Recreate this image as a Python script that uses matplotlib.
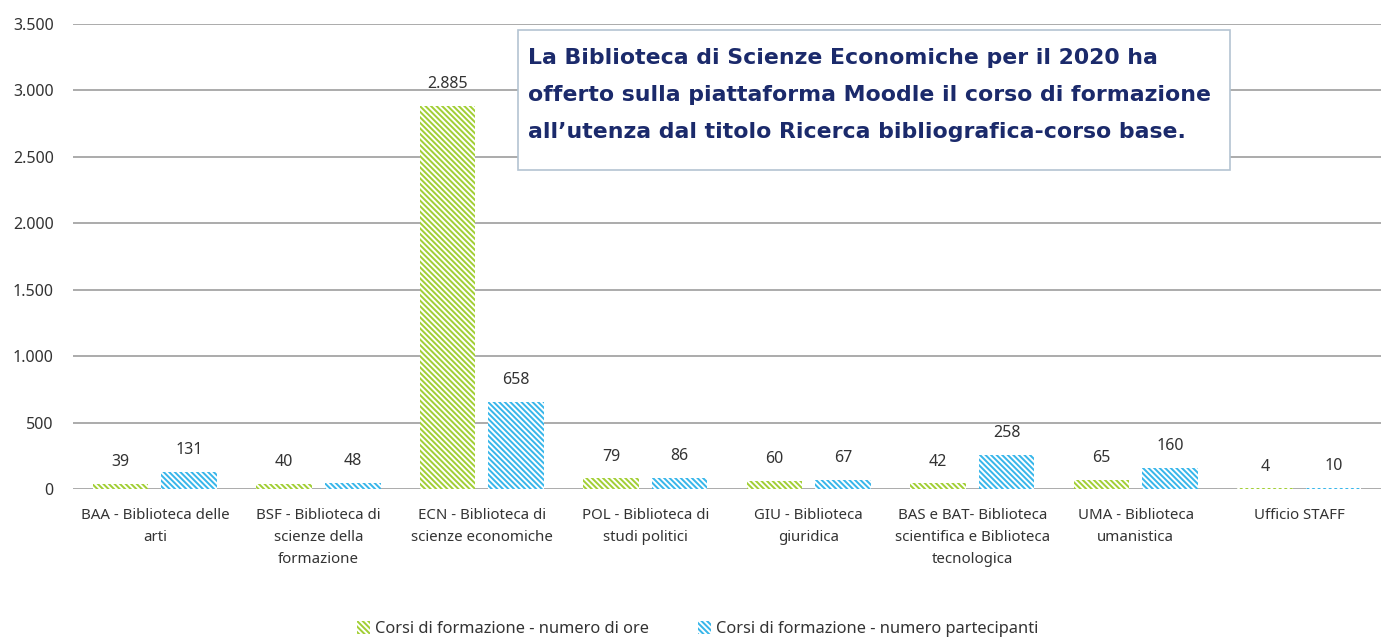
import numpy as np
import matplotlib.pyplot as plt
from matplotlib.patches import Rectangle
from matplotlib.ticker import FuncFormatter

categorie = [
    "BAA - Biblioteca delle\narti",
    "BSF - Biblioteca di\nscienze della\nformazione",
    "ECN - Biblioteca di\nscienze economiche",
    "POL - Biblioteca di\nstudi politici",
    "GIU - Biblioteca\ngiuridica",
    "BAS e BAT- Biblioteca\nscientifica e Biblioteca\ntecnologica",
    "UMA - Biblioteca\numanistica",
    "Ufficio STAFF",
]
ore = [39, 40, 2885, 79, 60, 42, 65, 4]
partecipanti = [131, 48, 658, 86, 67, 258, 160, 10]
serie = ["Corsi di formazione - numero di ore",
         "Corsi di formazione - numero partecipanti"]

plt.rcParams['font.family'] = ['Noto Sans', 'DejaVu Sans']
plt.rcParams['hatch.linewidth'] = 1.4

fig = plt.figure(figsize=(13.81, 6.44), dpi=100)
ax = fig.add_axes([0.053, 0.2407, 0.947, 0.722])

x = np.arange(len(categorie))
w = 0.34
off = 0.21
verde = "#A2CF35"
blu = "#38B6EA"

b1 = ax.bar(x - off, ore, w, color=verde, edgecolor="white", linewidth=0,
            hatch="\\" * 6, label=serie[0], zorder=3)
b2 = ax.bar(x + off, partecipanti, w, color=blu, edgecolor="white", linewidth=0,
            hatch="\\" * 6, label=serie[1], zorder=3)

fmt = lambda v, p=None: f"{int(v):,}".replace(",", ".")
for bars in (b1, b2):
    ax.bar_label(bars, labels=[fmt(b.get_height()) for b in bars],
                 padding=10, fontsize=11.5, color="#333333")

ax.set_xlim(-0.5, len(categorie) - 0.5)
ax.set_ylim(0, 3500)
ax.set_yticks(np.arange(0, 3501, 500))
ax.yaxis.set_major_formatter(FuncFormatter(fmt))
ax.yaxis.grid(True, color="#ABABAB", linewidth=1.4, zorder=0)
ax.set_axisbelow(True)
for s in ax.spines.values():
    s.set_visible(False)
ax.tick_params(axis="y", length=0, pad=14, labelsize=11.5, labelcolor="#333333")
ax.set_xticks(x)
ax.set_xticklabels(categorie, fontsize=10.8, color="#333333", linespacing=1.62)
ax.tick_params(axis="x", length=0, pad=14)

# riquadro con la nota sul corso Moodle
fig.patches.append(Rectangle((0.375, 0.736), 0.5157, 0.2174, transform=fig.transFigure,
                             facecolor="white", edgecolor="#B4C4D2", linewidth=1.2,
                             zorder=5))
testo = ("La Biblioteca di Scienze Economiche per il 2020 ha\n"
         "offerto sulla piattaforma Moodle il corso di formazione\n"
         "all\u2019utenza dal titolo Ricerca bibliografica-corso base.")
fig.text(0.3823, 0.926, testo, fontsize=15.8, fontweight="bold", color="#1B2A6B",
         va="top", ha="left", linespacing=2.08, fontfamily="DejaVu Sans", zorder=6)

fig.legend(loc="lower center", bbox_to_anchor=(0.505, -0.012), ncol=2, frameon=False,
           fontsize=11.8, handlelength=0.8, handleheight=0.8, columnspacing=3.0,
           handletextpad=0.3, labelcolor="#333333")

fig.savefig("out.png", dpi=100)
